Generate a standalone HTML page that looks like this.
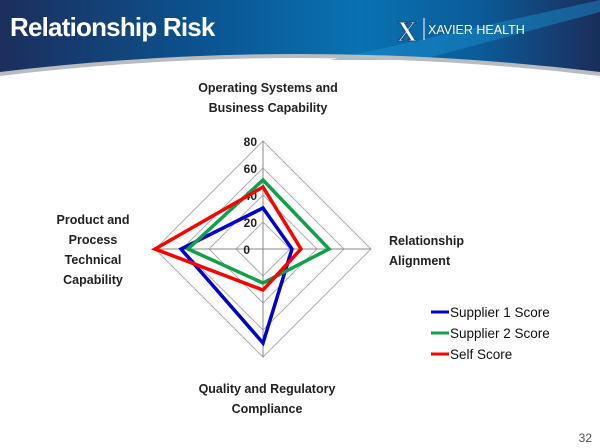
<!DOCTYPE html>
<html><head><style>
body{margin:0;width:600px;height:448px;background:#fff;overflow:hidden}
svg{display:block}
text{font-family:"Liberation Sans",sans-serif}
</style></head><body>
<svg width="600" height="448" viewBox="0 0 600 448">
<defs>
<linearGradient id="bg" x1="0" x2="1" y1="0" y2="0">
<stop offset="0" stop-color="#1c2e5c"/><stop offset="0.35" stop-color="#0a5592"/><stop offset="0.6" stop-color="#0a72b2"/><stop offset="0.8" stop-color="#0b5b99"/><stop offset="1" stop-color="#1b2d5a"/>
</linearGradient>
</defs>
<path d="M0 0H600V74Q300 38 0 74Z" fill="url(#bg)"/>
<path d="M330 60 L600 0 L600 12 L420 60Z" fill="#1a8ccc" opacity="0.5"/>
<path d="M0 74Q300 38 600 74" fill="none" stroke="#b8bcc0" stroke-width="4"/>
<path d="M0 78Q300 42 600 78V80H0Z" fill="#fff"/>
<text x="10" y="36" font-size="26" font-weight="bold" fill="#fff" letter-spacing="-0.8">Relationship Risk</text>
<text x="397" y="41" font-size="28" font-weight="bold" fill="#fff" stroke="#1a4a80" stroke-width="1" style="font-family:'Liberation Serif',serif">X</text>
<line x1="424" y1="18" x2="424" y2="40" stroke="#fff" stroke-width="1"/>
<text x="428" y="34" font-size="12.5" fill="#fff">XAVIER HEALTH</text>

<g fill="none" stroke="#b0b0b0" stroke-width="1">
<polygon points="263,222 290,249 263,276 236,249"/>
<polygon points="263,195 317,249 263,303 209,249"/>
<polygon points="263,168 344,249 263,330 182,249"/>
<polygon points="263,141 371,249 263,357 155,249"/>
<line x1="263" y1="141" x2="263" y2="357" stroke="#888"/>
<line x1="155" y1="249" x2="371" y2="249" stroke="#888"/>
</g>
<g font-size="12" font-weight="bold" fill="#222" text-anchor="end">
<text x="257" y="146">80</text><text x="257" y="173">60</text><text x="257" y="200">40</text><text x="257" y="227">20</text><text x="250" y="254">0</text>
</g>
<g fill="none" stroke-width="3.5" stroke-linejoin="miter">
<polygon points="263,208 292,249 263,343 181,249" stroke="#0000cc"/>
<polygon points="263,180 329,249 263,283 188,249" stroke="#10a04a"/>
<polygon points="263,187 301,249 263,290 155,249" stroke="#ff0000"/>
</g>
<g font-size="12.5" font-weight="bold" fill="#222">
<text x="268" y="92" text-anchor="middle">Operating Systems and</text>
<text x="268" y="112" text-anchor="middle">Business Capability</text>
<text x="389" y="245">Relationship</text>
<text x="389" y="265">Alignment</text>
<text x="267" y="393" text-anchor="middle">Quality and Regulatory</text>
<text x="267" y="413" text-anchor="middle">Compliance</text>
<text x="93" y="224" text-anchor="middle">Product and</text>
<text x="93" y="244" text-anchor="middle">Process</text>
<text x="93" y="264" text-anchor="middle">Technical</text>
<text x="93" y="284" text-anchor="middle">Capability</text>
</g>
<line x1="431" y1="312" x2="449" y2="312" stroke="#0000cc" stroke-width="3"/>
<line x1="431" y1="333" x2="449" y2="333" stroke="#10a04a" stroke-width="3"/>
<line x1="431" y1="354" x2="449" y2="354" stroke="#ff0000" stroke-width="3"/>
<g font-size="13.5" fill="#111">
<text x="450" y="317">Supplier 1 Score</text>
<text x="450" y="338">Supplier 2 Score</text>
<text x="450" y="359">Self Score</text>
</g>
<text x="592" y="442" font-size="12" fill="#555" text-anchor="end">32</text>
</svg>
</body></html>
